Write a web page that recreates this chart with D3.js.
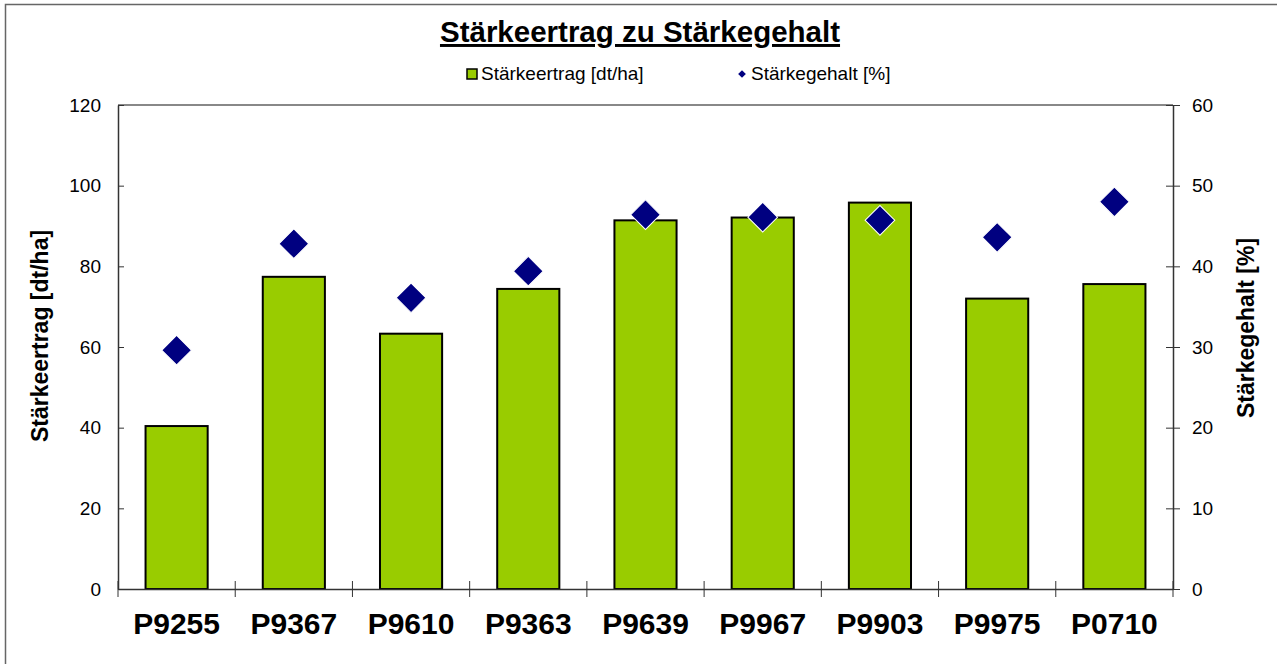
<!DOCTYPE html>
<html>
<head>
<meta charset="utf-8">
<script src="https://cdn.jsdelivr.net/npm/d3@7"></script>
<style>
  body { margin: 0; background: #fff; }
  text { font-family: "Liberation Sans", Arial, sans-serif; }
</style>
</head>
<body>
<div id="chart"></div>
<script>
// data
var sorten = ["P9255", "P9367", "P9610", "P9363", "P9639", "P9967", "P9903", "P9975", "P0710"];
var ertrag = [40.4, 77.4, 63.3, 74.4, 91.4, 92.1, 95.8, 72.0, 75.6];   // dt/ha
var gehalt = [29.6, 42.8, 36.1, 39.4, 46.4, 46.1, 45.7, 43.6, 48.0];   // %
var leftTicks = [0, 20, 40, 60, 80, 100, 120];
var rightTicks = [0, 10, 20, 30, 40, 50, 60];

var W = 1277, H = 664;
var margin = {top: 105, right: 104, bottom: 75, left: 118},
    width = W - margin.left - margin.right,
    height = H - margin.top - margin.bottom;

var svg = d3.select("#chart").append("svg")
    .attr("width", W)
    .attr("height", H);

// outer frame
svg.append("rect")
    .attr("x", 5.5).attr("y", 4.5)
    .attr("width", 1300).attr("height", 700)
    .attr("fill", "none")
    .attr("stroke", "#666")
    .attr("stroke-width", 1.5);

var g = svg.append("g")
    .attr("transform", "translate(" + margin.left + "," + margin.top + ")");

var x = d3.scaleBand()
    .domain(sorten)
    .range([0, width])
    .paddingInner(0.47)
    .paddingOuter(0.235);
var xTick = d3.scaleBand().domain(sorten).range([0, width]);
var y = d3.scaleLinear().domain([0, 120]).range([height, 0]);
var y2 = d3.scaleLinear().domain([0, 60]).range([height, 0]);

// top border of plot area
g.append("line")
    .attr("x1", 0).attr("x2", width)
    .attr("y1", 0).attr("y2", 0)
    .attr("stroke", "#888").attr("stroke-width", 2);

// bars
g.selectAll(".bar")
    .data(sorten)
  .enter().append("rect")
    .attr("class", "bar")
    .attr("x", function(d) { return x(d); })
    .attr("width", x.bandwidth())
    .attr("y", function(d, i) { return y(ertrag[i]); })
    .attr("height", function(d, i) { return height - y(ertrag[i]); })
    .style("fill", "#99cc00")
    .style("stroke", "#000")
    .style("stroke-width", 2);

// diamonds
var dia = d3.symbol().type(d3.symbolSquare).size(440);
g.selectAll(".pt")
    .data(sorten)
  .enter().append("path")
    .attr("class", "pt")
    .attr("d", dia)
    .attr("transform", function(d, i) {
      return "translate(" + (x(d) + x.bandwidth() / 2) + "," + y2(gehalt[i]) + ") rotate(45)";
    })
    .style("fill", "#000080")
    .style("stroke", "#fff")
    .style("stroke-width", 1);

// axes
var axL = g.append("g")
    .call(d3.axisLeft(y).tickValues(leftTicks).tickSizeInner(5).tickSizeOuter(0).tickPadding(12));
axL.selectAll(".tick line").attr("x2", 6);
var axR = g.append("g")
    .attr("transform", "translate(" + width + ",0)")
    .call(d3.axisRight(y2).tickValues(rightTicks).tickSizeInner(7).tickSizeOuter(0).tickPadding(12));
axR.selectAll(".tick line").attr("x1", -7);
var axB = g.append("g")
    .attr("transform", "translate(0," + height + ")")
    .call(d3.axisBottom(xTick).tickSize(0).tickPadding(24));
// category separators ticks on the x axis
axB.selectAll(".sep")
    .data(sorten.concat(["_end"]))
  .enter().append("line")
    .attr("class", "sep")
    .attr("x1", function(d, i) { return i * xTick.bandwidth(); })
    .attr("x2", function(d, i) { return i * xTick.bandwidth(); })
    .attr("y1", -8).attr("y2", 8)
    .attr("stroke", "#333");

[axL, axR, axB].forEach(function(a) {
  a.select(".domain").attr("stroke", "#333").attr("stroke-width", 1.5);
  a.selectAll(".tick line").attr("stroke", "#333");
  a.selectAll("text").attr("fill", "#000")
    .style("font-family", '"Liberation Sans", Arial, sans-serif');
});
axL.selectAll("text").style("font-size", "19px");
axR.selectAll("text").style("font-size", "19px");
axB.selectAll("text").style("font-size", "30px").style("font-weight", "bold").attr("dy", "0.71em");

// axis titles
svg.append("text")
    .attr("transform", "translate(48,336) rotate(-90)")
    .attr("text-anchor", "middle")
    .style("font-size", "23px").style("font-weight", "bold")
    .text("Stärkeertrag [dt/ha]");
svg.append("text")
    .attr("transform", "translate(1254,328) rotate(-90)")
    .attr("text-anchor", "middle")
    .style("font-size", "23px").style("font-weight", "bold")
    .text("Stärkegehalt [%]");

// title
svg.append("text")
    .attr("x", 640).attr("y", 42)
    .attr("text-anchor", "middle")
    .style("font-size", "29.5px").style("font-weight", "bold")
    .style("text-decoration", "underline")
    .text("Stärkeertrag zu Stärkegehalt");

// legend
var leg = svg.append("g");
leg.append("rect")
    .attr("x", 467).attr("y", 69).attr("width", 10).attr("height", 10)
    .style("fill", "#99cc00").style("stroke", "#000").style("stroke-width", 1.5);
leg.append("text")
    .attr("x", 481).attr("y", 80)
    .style("font-size", "19px")
    .text("Stärkeertrag [dt/ha]");
leg.append("path")
    .attr("d", d3.symbol().type(d3.symbolSquare).size(30))
    .attr("transform", "translate(742,74) rotate(45)")
    .style("fill", "#000080");
leg.append("text")
    .attr("x", 751).attr("y", 80)
    .style("font-size", "19px")
    .text("Stärkegehalt [%]");
</script>
</body>
</html>
